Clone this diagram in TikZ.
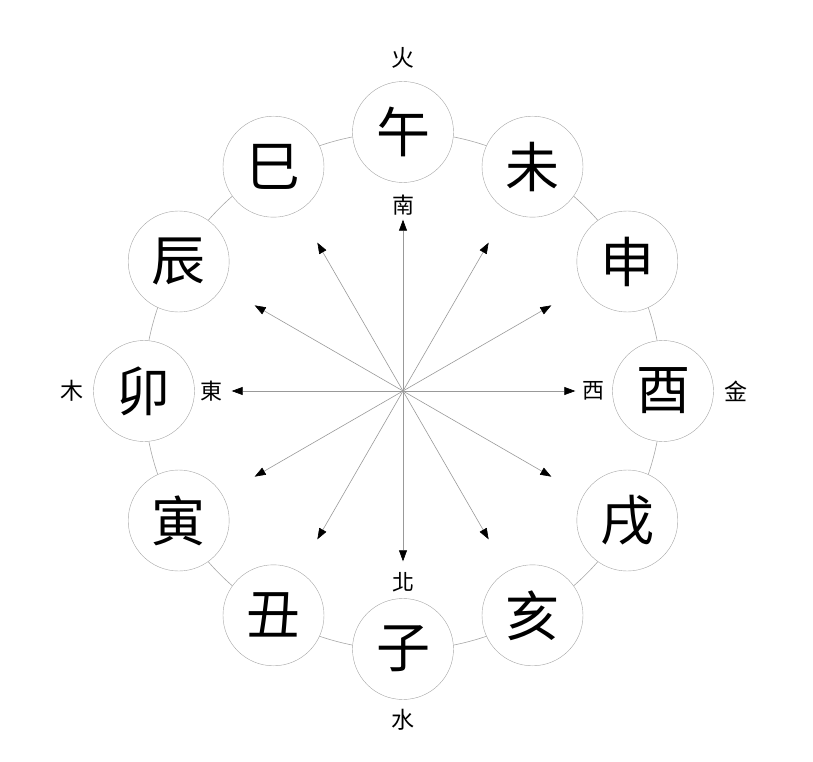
\documentclass[tikz,border=0pt]{standalone}
\usepackage{fontspec}
\newfontfamily\cjk{Noto Sans CJK TC}
\usetikzlibrary{arrows.meta,backgrounds}

\begin{document}
\begin{tikzpicture}[
  x=1pt,y=1pt,
  font=\cjk,
  branch/.style={draw=gray!70,circle,fill=white,minimum size=101pt,inner sep=0pt,
                 font=\cjk\fontsize{54}{54}\selectfont},
  ray/.style={-{Triangle[length=11pt,width=8pt,color=black]},draw=gray!80,
              line width=0.6pt,shorten >=37pt},
  ring/.style={draw=gray!70,line width=0.6pt},
  dir/.style={font=\cjk\fontsize{22}{22}\selectfont},
  elem/.style={font=\cjk\fontsize{23}{23}\selectfont},
]
\useasboundingbox (-403,-370) rectangle (410,391);
\coordinate (c) at (0,0);

% the twelve branches
\node[branch] (wu)   at (90:259)   {午};
\node[branch] (wei)  at (60:259)   {未};
\node[branch] (shen) at (30:259)   {申};
\node[branch] (you)  at (0:260)    {酉};
\node[branch] (xu)   at (-30:259)  {戌};
\node[branch] (hai)  at (-60:259)  {亥};
\node[branch] (zi)   at (-90:258)  {子};
\node[branch] (chou) at (-120:259) {丑};
\node[branch] (yin)  at (-150:259) {寅};
\node[branch] (mao)  at (180:259)  {卯};
\node[branch] (chen) at (150:259)  {辰};
\node[branch] (si)   at (120:259)  {巳};

% rays from the centre
\draw[ray] (c) -- (wu);
\draw[ray] (c) -- (wei);
\draw[ray] (c) -- (shen);
\draw[ray] (c) -- (you);
\draw[ray] (c) -- (xu);
\draw[ray] (c) -- (hai);
\draw[ray] (c) -- (zi);
\draw[ray] (c) -- (chou);
\draw[ray] (c) -- (yin);
\draw[ray] (c) -- (mao);
\draw[ray] (c) -- (chen);
\draw[ray] (c) -- (si);

% directions
\node[dir] (nan)  at (90:186)  {南};
\node[dir] (bei)  at (-90:191) {北};
\node[dir] (dong) at (180:191) {東};
\node[dir] (xi)   at (0:190)   {西};

% elements
\node[elem] (huo)  at (90:333)  {火};
\node[elem] (shui) at (-90:329) {水};
\node[elem] (mu)   at (180:331) {木};
\node[elem] (jin)  at (0:333)   {金};

\begin{scope}[on background layer]
  \draw[ring] (c) circle (259);
\end{scope}
\end{tikzpicture}
\end{document}
